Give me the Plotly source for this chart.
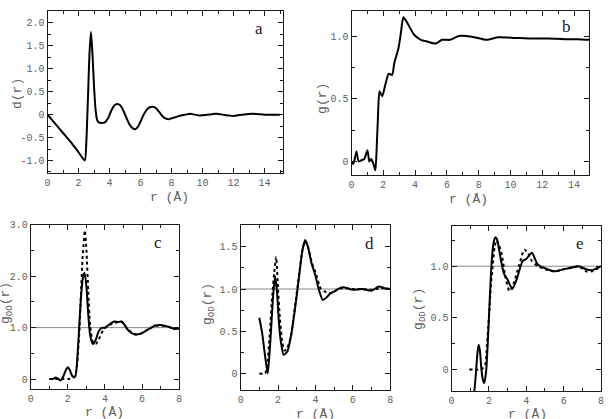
import plotly.graph_objects as go

W, H = 609, 419

# ---------------- data ----------------
a_r = [0.0, 0.5, 1.0, 1.5, 2.0, 2.4, 2.5, 2.6, 2.7, 2.8, 2.9, 3.0, 3.1, 3.2, 3.3, 3.5, 3.7, 3.9, 4.1, 4.3,
       4.5, 4.7, 4.9, 5.1, 5.3, 5.5, 5.65, 5.8, 6.0, 6.2, 6.4, 6.6, 6.8, 7.0, 7.2, 7.4, 7.6, 7.8, 8.0, 8.3,
       8.6, 8.9, 9.2, 9.5, 9.8, 10.2, 10.6, 10.9, 11.3, 11.7, 12.0, 12.4, 12.8, 13.2, 13.6, 14.0, 14.5, 15.0]
a_d = [0.0, -0.2, -0.4, -0.6, -0.82, -1.0, -0.6, 0.3, 1.3, 1.8, 1.3, 0.6, 0.1, -0.12, -0.17, -0.18, -0.17, -0.08, 0.08, 0.2,
       0.23, 0.2, 0.08, -0.08, -0.22, -0.3, -0.32, -0.28, -0.15, 0.0, 0.11, 0.16, 0.17, 0.14, 0.06, -0.03, -0.08, -0.1, -0.08, -0.05,
       -0.02, 0.0, 0.02, 0.0, -0.02, -0.01, 0.01, 0.02, 0.0, -0.02, -0.03, -0.01, 0.01, 0.02, 0.01, 0.0, 0.0, 0.0]

b_r = [0.0, 0.1, 0.2, 0.31, 0.45, 0.62, 0.8, 1.0, 1.12, 1.24, 1.38, 1.5, 1.58, 1.66, 1.76, 1.93, 2.14, 2.34, 2.55, 2.7,
       2.95, 3.1, 3.26, 3.53, 3.94, 4.36, 4.8, 5.29, 5.7, 6.2, 6.74, 7.57, 8.5, 9.23, 10.3, 11.3, 12.4, 13.4, 14.2, 15.0]
b_g = [0.0, -0.02, 0.02, 0.08, 0.0, 0.01, 0.02, 0.09, 0.0, 0.02, -0.02, -0.07, 0.1, 0.35, 0.56, 0.52, 0.62, 0.70, 0.69, 0.79,
       0.90, 1.02, 1.15, 1.10, 1.01, 0.97, 0.955, 0.94, 0.97, 0.97, 1.0, 0.995, 0.97, 0.99, 0.985, 0.98, 0.98, 0.975, 0.975, 0.97]

c_r_md = [1.0, 1.2, 1.35, 1.5, 1.6, 1.75, 1.9, 2.0, 2.1, 2.25, 2.4, 2.5, 2.6, 2.7, 2.8, 2.9, 3.0, 3.1, 3.2, 3.35,
          3.5, 3.65, 3.8, 4.0, 4.3, 4.5, 4.7, 4.9, 5.05, 5.2, 5.4, 5.6, 5.9, 6.3, 6.7, 7.0, 7.4, 7.7, 8.0]
c_g_md = [0.0, 0.0, 0.03, 0.0, -0.03, 0.05, 0.18, 0.23, 0.18, 0.05, 0.05, 0.35, 0.95, 1.55, 1.95, 2.07, 1.8, 1.25, 0.85, 0.68,
          0.76, 0.92, 0.99, 1.0, 1.08, 1.12, 1.11, 1.12, 1.06, 0.97, 0.9, 0.87, 0.88, 0.96, 1.04, 1.05, 1.02, 0.98, 0.98]
c_r_ex = [1.0, 1.5, 2.0, 2.3, 2.45, 2.6, 2.7, 2.8, 2.92, 3.0, 3.1, 3.2, 3.35, 3.5, 3.7, 3.9, 4.1, 4.4, 4.6, 4.9,
          5.2, 5.6, 5.9, 6.3, 6.7, 7.0, 7.4, 7.7, 8.0]
c_g_ex = [0.0, 0.0, 0.0, 0.02, 0.15, 0.8, 1.6, 2.4, 2.89, 2.5, 1.7, 1.05, 0.72, 0.68, 0.8, 0.95, 1.02, 1.08, 1.1, 1.11,
          0.98, 0.87, 0.88, 0.96, 1.03, 1.04, 1.02, 0.98, 0.98]

d_r_md = [1.0, 1.15, 1.3, 1.45, 1.55, 1.65, 1.75, 1.85, 1.95, 2.05, 2.15, 2.3, 2.5, 2.7, 2.9, 3.1, 3.3, 3.45, 3.6, 3.8,
          4.0, 4.2, 4.4, 4.6, 4.8, 5.0, 5.3, 5.5, 6.0, 6.5, 7.0, 7.4, 7.7, 8.0]
d_g_md = [0.66, 0.48, 0.22, 0.0, 0.25, 0.6, 0.95, 1.15, 0.95, 0.6, 0.38, 0.22, 0.26, 0.45, 0.75, 1.1, 1.45, 1.58, 1.5, 1.3,
          1.16, 0.98, 0.87, 0.9, 0.95, 0.97, 1.01, 1.02, 0.99, 1.0, 0.98, 1.03, 1.01, 1.0]
d_r_ex = [1.0, 1.3, 1.4, 1.55, 1.7, 1.8, 1.9, 2.0, 2.1, 2.2, 2.35, 2.5, 2.7, 2.9, 3.1, 3.3, 3.45, 3.6, 3.8, 4.0,
          4.3, 4.5, 4.9, 5.2, 5.6, 6.0, 6.5, 7.0, 7.5, 8.0]
d_g_ex = [0.0, 0.0, 0.05, 0.45, 0.95, 1.2, 1.38, 1.0, 0.65, 0.42, 0.27, 0.3, 0.45, 0.78, 1.12, 1.45, 1.57, 1.5, 1.32, 1.2,
          1.0, 0.97, 0.95, 1.0, 1.01, 1.0, 1.0, 0.99, 1.01, 1.0]

e_r_md = [1.2, 1.3, 1.38, 1.45, 1.52, 1.6, 1.68, 1.75, 1.85, 1.95, 2.05, 2.15, 2.25, 2.35, 2.45, 2.6, 2.8, 3.0, 3.25, 3.5,
          3.8, 4.0, 4.3, 4.6, 5.0, 5.5, 6.0, 6.5, 6.8, 7.2, 7.5, 8.0]
e_g_md = [-0.25, -0.05, 0.15, 0.24, 0.18, 0.0, -0.1, -0.13, -0.02, 0.3, 0.7, 1.05, 1.23, 1.28, 1.25, 1.1, 0.93, 0.87, 0.78, 0.88,
          1.05, 1.07, 1.13, 1.02, 0.98, 0.95, 0.97, 0.99, 1.0, 0.97, 0.96, 1.0]
e_r_ex = [0.95, 1.3, 1.6, 1.8, 1.9, 2.0, 2.1, 2.2, 2.3, 2.4, 2.55, 2.7, 2.9, 3.1, 3.3, 3.6, 3.9, 4.1, 4.3, 4.6,
          5.0, 5.5, 6.0, 6.5, 6.8, 7.2, 7.5, 8.0]
e_g_ex = [0.0, 0.0, 0.0, 0.05, 0.25, 0.5, 0.8, 1.0, 1.18, 1.25, 1.2, 1.1, 0.88, 0.76, 0.82, 1.0, 1.16, 1.12, 1.05, 1.0,
          0.97, 0.95, 0.97, 0.99, 1.0, 0.95, 0.95, 1.0]

# ---------------- layout helpers ----------------
MONO = "Liberation Mono"
GREY = "#606060"
TICKC = "#1a1a1a"

def dom(x0, x1, y0, y1):
    return [x0 / W, x1 / W], [1 - y1 / H, 1 - y0 / H]

panels = {
    1: dom(45, 283, 7, 171),
    2: dom(352, 592, 7, 173),
    3: dom(28, 178, 223, 389),
    4: dom(240, 391, 223, 390),
    5: dom(453, 604, 224, 391),
}

fig = go.Figure()

def add(r, g, n, dash="solid"):
    fig.add_trace(go.Scatter(
        x=r, y=g, mode="lines", xaxis=f"x{n}" if n > 1 else "x", yaxis=f"y{n}" if n > 1 else "y",
        line=dict(color="black", width=2, dash=dash, shape="spline", smoothing=0.6),
        showlegend=False, hoverinfo="skip"))

add(a_r, a_d, 1)
add(b_r, b_g, 2)
add(c_r_ex, c_g_ex, 3, "dot")
add(c_r_md, c_g_md, 3)
add(d_r_ex, d_g_ex, 4, "dot")
add(d_r_md, d_g_md, 4)
add(e_r_ex, e_g_ex, 5, "dot")
add(e_r_md, e_g_md, 5)

def axis(domain, rng, tickvals, ticktext, minor_dtick, anchor):
    return dict(
        domain=domain, range=rng, anchor=anchor,
        showline=True, linecolor=TICKC, linewidth=1, mirror="allticks",
        ticks="inside", ticklen=5, tickwidth=1, tickcolor=TICKC,
        tickmode="array", tickvals=tickvals, ticktext=ticktext,
        minor=dict(ticks="inside", ticklen=3, tickwidth=1, tickcolor=TICKC, dtick=minor_dtick, tick0=0),
        showgrid=False, zeroline=False,
        tickfont=dict(family=MONO, size=10, color=GREY),
    )

xt14 = [0, 2, 4, 6, 8, 10, 12, 14]
xt8 = [0, 2, 4, 6, 8]
lay = {}
specs = {
    1: ([0, 15.2], xt14, [str(v) for v in xt14], 1, [-1.28, 2.26], [-1.0, -0.5, 0, 0.5, 1.0, 1.5, 2.0],
        ["-1.0", "-0.5", "0", "0.5", "1.0", "1.5", "2.0"], 0.25),
    2: ([0, 14.95], xt14, [str(v) for v in xt14], 1, [-0.11, 1.2], [0, 0.5, 1.0], ["0", "0.5", "1.0"], 0.25),
    3: ([0, 8], xt8, [str(v) for v in xt8], 1, [-0.2, 3.0], [0, 1, 2, 3], ["0", "1.0", "2.0", "3.0"], 0.5),
    4: ([0, 8], xt8, [str(v) for v in xt8], 1, [-0.2, 1.76], [0, 0.5, 1.0, 1.5], ["0", "0.5", "1.0", "1.5"], 0.25),
    5: ([0, 8], xt8, [str(v) for v in xt8], 1, [-0.21, 1.39], [0, 0.5, 1.0], ["0", "0.5", "1.0"], 0.25),
}
for n, (xr, xtv, xtt, xmd, yr, ytv, ytt, ymd) in specs.items():
    xd, yd = panels[n]
    sx = "" if n == 1 else str(n)
    lay[f"xaxis{sx}"] = axis(xd, xr, xtv, xtt, xmd, f"y{sx}")
    lay[f"yaxis{sx}"] = axis(yd, yr, ytv, ytt, ymd, f"x{sx}")

fig.update_layout(
    width=W, height=H, margin=dict(l=0, r=0, t=0, b=0),
    paper_bgcolor="white", plot_bgcolor="rgba(0,0,0,0)", **lay)

# reference lines at 1.0
for n in (3, 4, 5):
    fig.add_shape(type="line", xref=f"x{n} domain", x0=0, x1=1, yref=f"y{n}", y0=1, y1=1,
                  line=dict(color="#888", width=1), layer="below")

def ann(text, x, y, size=13, angle=0, color=GREY, family=MONO):
    fig.add_annotation(text=text, x=x / W, y=1 - y / H, xref="paper", yref="paper",
                       showarrow=False, textangle=angle, xanchor="center", yanchor="middle",
                       font=dict(family=family, size=size, color=color))

# x titles
ann("r (Å)", 168, 195)
ann("r (Å)", 470, 197)
ann("r (Å)", 103, 412)
ann("r (Å)", 316, 414)
ann("r (Å)", 530, 414)
# y titles
ann("d(r)", 14, 90, angle=-90)
ann("g(r)", 322, 95, angle=-90)
ann("g<sub>OO</sub>(r)", 3, 302, angle=-90)
ann("g<sub>OD</sub>(r)", 207, 303, angle=-90)
ann("g<sub>DD</sub>(r)", 420, 308, angle=-90)
# panel letters
for t, x, y in [("a", 259, 25), ("b", 569, 23), ("c", 157, 241), ("d", 370, 242), ("e", 583, 242)]:
    ann(t, x, y, size=17, color="#222", family="Liberation Serif")

fig.write_html("out.html")
